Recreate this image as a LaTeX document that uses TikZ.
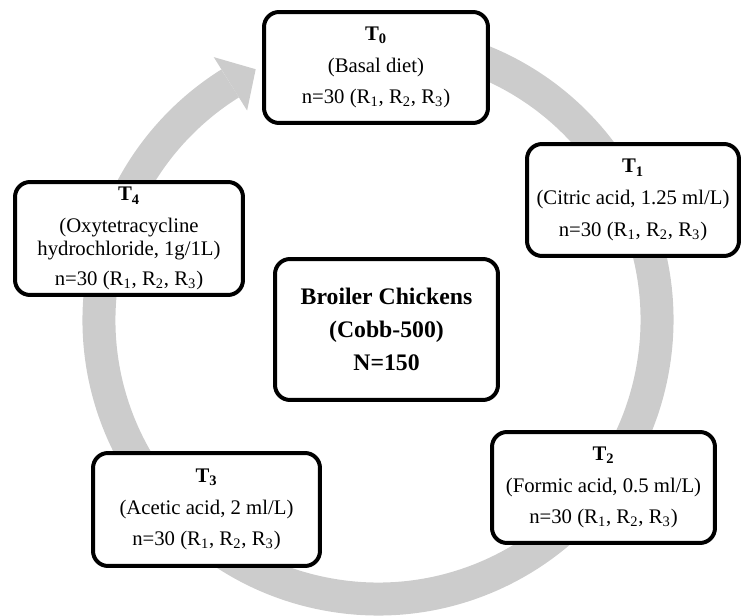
\documentclass[tikz,border=0pt]{standalone}
\usepackage{fontspec}
\setmainfont{Liberation Serif}
\definecolor{ringgray}{RGB}{204,204,204}
\newcommand{\reps}{n=30 (R\textsubscript{1}, R\textsubscript{2}, R\textsubscript{3})}
\begin{document}
\begin{tikzpicture}[x=0.02cm,y=0.02cm,
    box/.style={draw,line width=0.08cm,rounded corners=0.3cm,fill=white,align=center,inner sep=0pt,font=\fontsize{11.8}{13}\selectfont},
    hubbox/.style={box,font=\fontsize{13.5}{19}\selectfont\bfseries},
    ring/.style={line width=0.66cm,draw=ringgray}]
  \useasboundingbox (0,0) rectangle (745,616);
  \begin{scope}[shift={(378,296)}]
    \draw[ring](80:279)arc(80:-238:279);
    \fill[ringgray](-238:310)--(116:279)--(-238:247)--cycle;
  \end{scope}
  \node[box,minimum width=4.48cm,minimum height=2.22cm] (t0) at (376,548.5)
    {\textbf{T\textsubscript{0}}\\[5pt](Basal diet)\\[5pt]\reps};
  \node[box,minimum width=4.24cm,minimum height=2.24cm] (t1) at (633,416)
    {\textbf{T\textsubscript{1}}\\[5pt](Citric acid, 1.25 ml/L)\\[5pt]\reps};
  \node[box,minimum width=4.46cm,minimum height=2.22cm] (t2) at (603.5,128.5)
    {\textbf{T\textsubscript{2}}\\[5pt](Formic acid, 0.5 ml/L)\\[5pt]\reps};
  \node[box,minimum width=4.54cm,minimum height=2.26cm] (t3) at (206.5,106.5)
    {\textbf{T\textsubscript{3}}\\[5pt](Acetic acid, 2 ml/L)\\[5pt]\reps};
  \node[box,minimum width=4.56cm,minimum height=2.26cm] (t4) at (129,377.5)
    {\textbf{T\textsubscript{4}}\\[5pt](Oxytetracycline\\hydrochloride, 1g/1L)\\[4pt]\reps};
  \node[hubbox,minimum width=4.46cm,minimum height=2.82cm] (hub) at (386.5,286.5)
    {Broiler Chickens\\(Cobb-500)\\N=150};
\end{tikzpicture}
\end{document}
